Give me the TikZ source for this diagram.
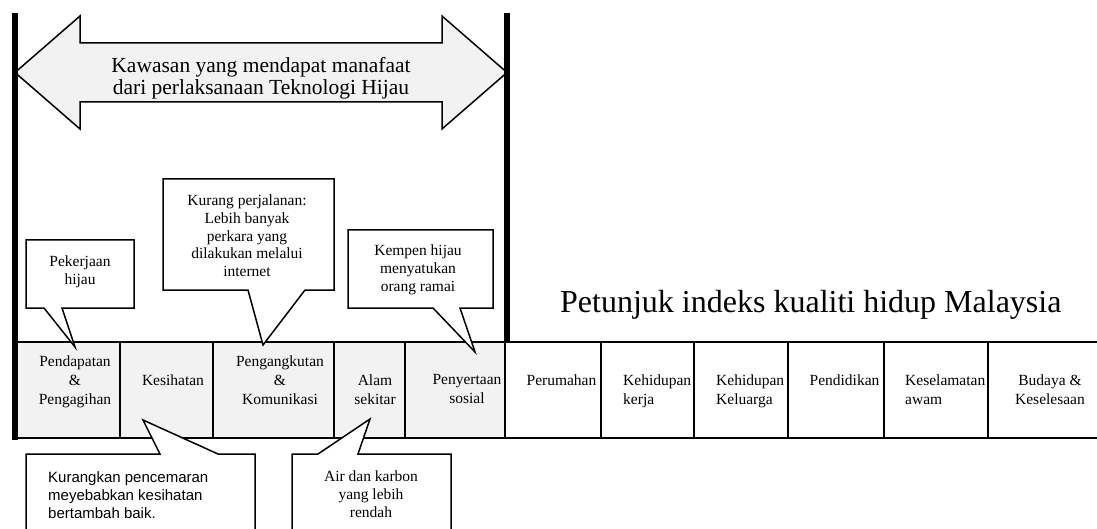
\documentclass[tikz,border=0pt]{standalone}
\usepackage{fontspec}
\setmainfont{Liberation Serif}
\newfontfamily\arialfont{Liberation Sans}
\definecolor{cellgray}{HTML}{F2F2F2}
\tikzset{
  gcell/.style={draw, line width=1.6pt, fill=cellgray, minimum height=96pt, anchor=north west, inner sep=0pt, outer sep=0pt},
  wcell/.style={gcell, fill=white},
  lab/.style={inner sep=0pt, font=\fontsize{15.5}{19}\selectfont, align=center, anchor=north},
  labl/.style={lab, align=left, anchor=north west},
  bubble/.style={draw, line width=1.5pt, fill=white, line join=miter},
  bubtext/.style={inner sep=0pt, font=\fontsize{15.5}{17.6}\selectfont, align=center, anchor=north},
  bar/.style={line width=6pt},
  bigarrow/.style={draw, line width=1.5pt, fill=cellgray, line join=miter},
}
\begin{document}
\begin{tikzpicture}[x=1pt,y=-1pt]
\useasboundingbox (0,0) rectangle (1097,529);

% big double arrow
\draw[bigarrow] (15,72.5) -- (80,16) -- (80,43) -- (442,43) -- (442,16) -- (507,72.5)
  -- (442,129) -- (442,102) -- (80,102) -- (80,129) -- cycle;
\node[inner sep=0pt, font=\fontsize{21.5}{21.5}\selectfont, align=center, anchor=north] (arrowtext) at (261,57.5)
  {Kawasan yang mendapat manafaat\\dari perlaksanaan Teknologi Hijau};

% table cells
\node[gcell, minimum width=105pt] (c1) at (15,342) {};
\node[gcell, minimum width=93pt]  (c2) at (120,342) {};
\node[gcell, minimum width=121pt] (c3) at (213,342) {};
\node[gcell, minimum width=71pt]  (c4) at (334,342) {};
\node[gcell, minimum width=100pt] (c5) at (405,342) {};
\node[wcell, minimum width=96pt]  (c6) at (505,342) {};
\node[wcell, minimum width=93pt]  (c7) at (601,342) {};
\node[wcell, minimum width=94pt]  (c8) at (694,342) {};
\node[wcell, minimum width=96pt]  (c9) at (788,342) {};
\node[wcell, minimum width=104pt] (c10) at (884,342) {};
\node[wcell, minimum width=112pt] (c11) at (988,342) {};

% cell labels
\node[lab] (l1) at (75,355.5) {Pendapatan\\\&\\Pengagihan};
\node[lab] (l2) at (173,374.5) {Kesihatan};
\node[lab] (l3) at (280,355.5) {Pengangkutan\\\&\\Komunikasi};
\node[lab] (l4) at (375,374.5) {Alam\\sekitar};
\node[lab] (l5) at (467,374.5) {Penyertaan\\sosial};
\node[lab] (l6) at (561.5,374.5) {Perumahan};
\node[labl] (l7) at (623,374.5) {Kehidupan\\kerja};
\node[labl] (l8) at (716,374.5) {Kehidupan\\Keluarga};
\node[lab] (l9) at (844.5,374.5) {Pendidikan};
\node[labl] (l10) at (905,374.5) {Keselamatan\\awam};
\node[lab] (l11) at (1050,374.5) {Budaya \&\\Keselesaan};

% thick bars
\draw[bar] (15,13) -- (15,440);
\draw[bar] (507,13) -- (507,342);

% title
\node[inner sep=0pt, font=\fontsize{32}{36}\selectfont, anchor=base west] (title) at (560,312)
  {Petunjuk indeks kualiti hidup Malaysia};

% callouts above
\draw[bubble] (26,240) -- (134,240) -- (134,308) -- (62,308) -- (75,347) -- (44,308) -- (26,308) -- cycle;
\node[bubtext] (t1) at (80,256) {Pekerjaan\\hijau};

\draw[bubble] (163,179) -- (334,179) -- (334,290) -- (305,290) -- (263,345) -- (248,290) -- (163,290) -- cycle;
\node[bubtext] (t2) at (247,195) {Kurang perjalanan:\\Lebih banyak\\perkara yang\\dilakukan melalui\\internet};

\draw[bubble] (348,230) -- (493,230) -- (493,308) -- (460,308) -- (475,352) -- (433,308) -- (348,308) -- cycle;
\node[bubtext] (t3) at (418,245) {Kempen hijau\\menyatukan\\orang ramai};

% callouts below
\draw[bubble] (26,535) -- (26,454) -- (160,454) -- (143,420) -- (218,454) -- (255,454) -- (255,535);
\node[inner sep=0pt, font=\arialfont\fontsize{15}{18.3}\selectfont, align=left, anchor=north west] (t4) at (48,471.3)
  {Kurangkan pencemaran\\meyebabkan kesihatan\\bertambah baik.};

\draw[bubble] (292,535) -- (292,454) -- (318,454) -- (370,419) -- (358,454) -- (451,454) -- (451,535);
\node[bubtext, font=\fontsize{15.5}{18}\selectfont] (t5) at (371,470.5) {Air dan karbon\\yang lebih\\rendah};
\end{tikzpicture}
\end{document}
